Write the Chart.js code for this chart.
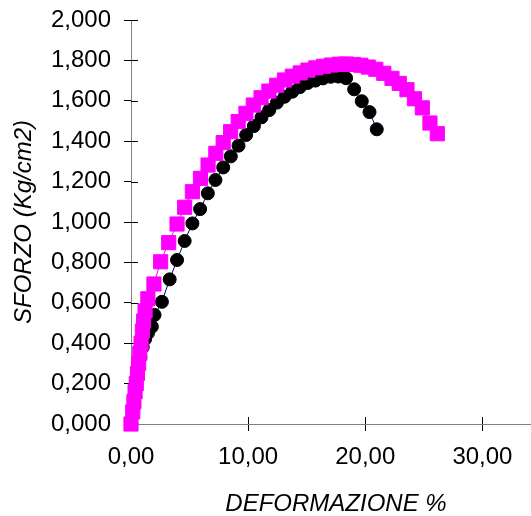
<!DOCTYPE html>
<html>
<head>
<meta charset="utf-8">
<script src="https://cdn.jsdelivr.net/npm/chart.js@4"></script>
<style>
  html, body { margin: 0; padding: 0; background: #fff; overflow: hidden; }
</style>
</head>
<body>
<canvas id="grafico" width="552" height="516"></canvas>
<script>
// Provino 1 (cerchi neri)
const deformazione1 = [0, 0.15, 0.3, 0.45, 0.6, 0.8, 1.0, 1.2, 1.45, 1.78, 2.01, 2.64, 3.30, 3.93, 4.58, 5.24, 5.90, 6.56, 7.21, 7.87, 8.52, 9.18, 9.83, 10.49, 11.14, 11.80, 12.46, 13.11, 13.77, 14.42, 15.08, 15.74, 16.39, 17.05, 17.70, 18.36, 19.05, 19.70, 20.36, 20.98];
const sforzo1 = [0, 0.07, 0.14, 0.21, 0.27, 0.33, 0.38, 0.42, 0.45, 0.482, 0.540, 0.605, 0.716, 0.812, 0.906, 0.993, 1.064, 1.142, 1.208, 1.270, 1.325, 1.378, 1.431, 1.475, 1.518, 1.554, 1.591, 1.620, 1.645, 1.668, 1.688, 1.700, 1.711, 1.719, 1.720, 1.712, 1.657, 1.598, 1.544, 1.459];

// Provino 2 (quadrati magenta)
const deformazione2 = [0, 0.15, 0.25, 0.35, 0.45, 0.55, 0.65, 0.75, 0.86, 0.97, 1.08, 1.20, 1.44, 1.96, 2.53, 3.22, 3.93, 4.58, 5.24, 5.93, 6.58, 7.24, 7.87, 8.50, 9.15, 9.81, 10.44, 11.10, 11.77, 12.44, 13.10, 13.77, 14.44, 15.10, 15.77, 16.44, 17.10, 17.77, 18.36, 19.00, 19.62, 20.25, 20.90, 21.58, 22.28, 22.90, 23.56, 24.20, 24.87, 25.52, 26.15];
const sforzo2 = [0, 0.06, 0.11, 0.16, 0.20, 0.25, 0.30, 0.35, 0.40, 0.46, 0.51, 0.56, 0.62, 0.693, 0.803, 0.898, 0.990, 1.073, 1.150, 1.216, 1.282, 1.340, 1.393, 1.447, 1.497, 1.538, 1.579, 1.615, 1.648, 1.677, 1.703, 1.722, 1.738, 1.752, 1.763, 1.771, 1.777, 1.781, 1.782, 1.780, 1.776, 1.767, 1.756, 1.736, 1.711, 1.686, 1.655, 1.610, 1.565, 1.490, 1.437];

const xTicks = [0, 10, 20, 30];

const font = { family: '"Liberation Sans", Arial, sans-serif', size: 24 };
const fontY = { family: '"Liberation Sans", Arial, sans-serif', size: 24, lineHeight: 0.4 };
const fontItalic = { family: '"Liberation Sans", Arial, sans-serif', size: 24, style: 'italic', lineHeight: 1 };

function punti(xs, ys) {
    return xs.map((v, i) => ({ x: v, y: ys[i] }));
}

// tacche che attraversano gli assi (parte interna)
const tacchePlugin = {
    id: 'tacche',
    beforeDatasetsDraw(chart) {
        const { ctx, scales: { x, y } } = chart;
        ctx.save();
        ctx.strokeStyle = '#000';
        ctx.lineWidth = 1;
        ctx.beginPath();
        y.ticks.forEach(t => {
            const py = Math.round(y.getPixelForValue(t.value)) + 0.5;
            ctx.moveTo(x.left, py);
            ctx.lineTo(x.left + 7, py);
        });
        x.ticks.forEach(t => {
            const px = Math.round(x.getPixelForValue(t.value)) + 0.5;
            ctx.moveTo(px, y.bottom);
            ctx.lineTo(px, y.bottom - 7);
        });
        ctx.stroke();
        ctx.restore();
    }
};

const ctx = document.getElementById('grafico').getContext('2d');
const grafico = new Chart(ctx, {
    type: 'scatter',
    data: {
        datasets: [{
            label: 'Provino 1',
            data: punti(deformazione1, sforzo1),
            showLine: true,
            borderColor: '#000080',
            borderWidth: 1,
            pointStyle: 'circle',
            pointRadius: 6.5,
            pointBackgroundColor: '#000',
            pointBorderColor: '#000',
            pointBorderWidth: 1,
            order: 1
        }, {
            label: 'Provino 2',
            data: punti(deformazione2, sforzo2),
            showLine: true,
            borderColor: '#FF00FF',
            borderWidth: 1,
            pointStyle: 'rect',
            pointRadius: 10,
            pointBackgroundColor: '#FF00FF',
            pointBorderColor: '#FF00FF',
            pointBorderWidth: 1,
            order: 0
        }]
    },
    options: {
        responsive: false,
        animation: false,
        clip: false,
        layout: { padding: { top: 20, right: 0, bottom: 0, left: 0 } },
        plugins: {
            legend: { display: false },
            tooltip: { enabled: false }
        },
        scales: {
            x: {
                type: 'linear',
                min: 0,
                max: 35,
                afterFit: scale => { scale.height = 92; },
                afterBuildTicks: scale => { scale.ticks = xTicks.map(v => ({ value: v })); },
                border: { color: '#808080', width: 1 },
                grid: { drawOnChartArea: false, drawTicks: true, tickLength: 7, color: '#000' },
                ticks: {
                    color: '#000',
                    font: font,
                    padding: 12,
                    maxRotation: 0,
                    callback: v => v.toFixed(2).replace('.', ',')
                },
                title: {
                    display: true,
                    text: 'DEFORMAZIONE %',
                    color: '#000',
                    font: fontItalic,
                    padding: { top: 0, bottom: 0 }
                }
            },
            y: {
                type: 'linear',
                min: 0,
                max: 2,
                afterFit: scale => { scale.width = 131; },
                border: { color: '#808080', width: 1 },
                grid: { drawOnChartArea: false, drawTicks: true, tickLength: 7, color: '#000' },
                ticks: {
                    stepSize: 0.2,
                    color: '#000',
                    font: fontY,
                    padding: 13,
                    callback: v => v.toFixed(3).replace('.', ',')
                },
                title: {
                    display: true,
                    text: 'SFORZO (Kg/cm2)',
                    color: '#000',
                    font: fontItalic,
                    padding: { top: 12, bottom: 8 }
                }
            }
        }
    },
    plugins: [tacchePlugin]
});
</script>
</body>
</html>
